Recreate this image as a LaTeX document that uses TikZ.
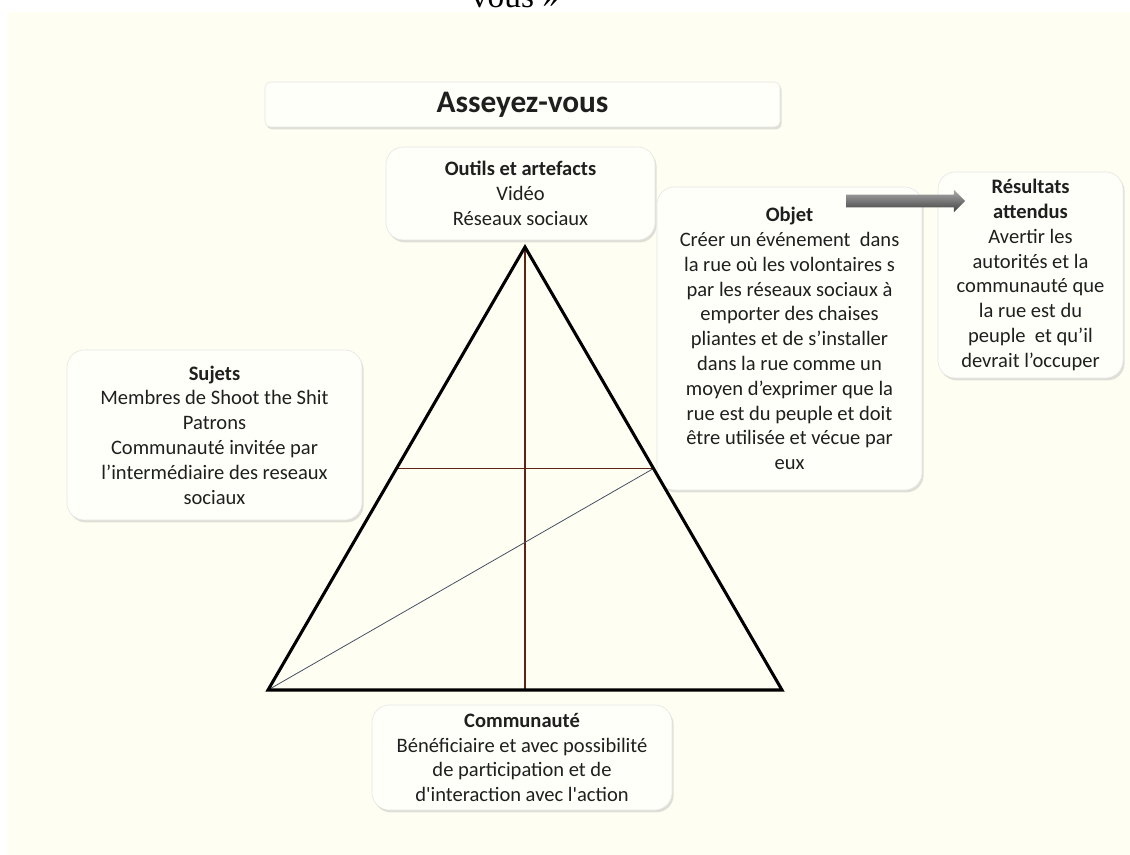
\documentclass[tikz,border=0pt]{standalone}
\usepackage{fontspec}
\setmainfont{Carlito}
\newfontfamily\timesfont{Liberation Serif}
\usetikzlibrary{shapes.arrows,shadows}
\definecolor{creme}{RGB}{255,254,243}
\definecolor{brun}{RGB}{95,35,20}
\definecolor{ardoise}{RGB}{70,80,100}
\begin{document}
\begin{tikzpicture}[x=0.75pt,y=-0.75pt,
  boite/.style={draw=gray!22, fill=white!55!creme, rounded corners=13pt, align=center, inner sep=0pt,
    drop shadow={shadow xshift=1.2pt, shadow yshift=-1.8pt, opacity=0.3, fill=gray!80},
    font=\fontsize{15.4}{18.6}\selectfont, text=black!88},
  fleche/.style={single arrow, draw=none, inner sep=4.5pt, minimum height=89.25pt,
    single arrow head extend=3.75pt, top color=gray!65, middle color=gray!10, bottom color=black!75}]
\useasboundingbox (0,0) rectangle (1130,855);
\fill[white] (0,0) rectangle (1130,855);
\fill[creme] (7,12) rectangle (1130,855);
%Titre
\node[font=\timesfont\fontsize{25}{30}\selectfont, anchor=base] (V) at (515,8) {vous~»};
\node[boite, rounded corners=4pt, minimum width=386.25pt, minimum height=33.75pt,
  font=\bfseries\fontsize{23.5}{28}\selectfont] (T) at (522.5,104.5) {Asseyez-vous};
%Boites du diagramme
\node[boite, minimum width=201.75pt, minimum height=69.75pt] (O) at (520.5,193.5)
  {\textbf{Outils et artefacts}\\Vidéo\\Réseaux sociaux};
\node[boite, minimum width=198.75pt, minimum height=227.25pt] (Ob) at (789.5,338.5)
  {\textbf{Objet}\\Créer un événement\ \ dans\\la rue où les volontaires s\\par les réseaux sociaux à\\emporter des chaises\\pliantes et de s’installer\\dans la rue comme un\\moyen d’exprimer que la\\rue est du peuple et doit\\être utilisée et vécue par\\eux};
\node[boite, minimum width=138.75pt, minimum height=154.5pt] (R) at (1030.5,275)
  {\textbf{Résultats}\\\textbf{attendus}\\Avertir les\\autorités et la\\communauté que\\la rue est du\\peuple\ \ et qu’il\\devrait l’occuper};
\node[boite, minimum width=221.25pt, minimum height=127.5pt] (S) at (214.5,435)
  {\textbf{Sujets}\\Membres de Shoot the Shit\\Patrons\\Communauté invitée par\\l’intermédiaire des reseaux\\sociaux};
\node[boite, minimum width=225pt, minimum height=78.75pt] (C) at (522,757.5)
  {\textbf{Communauté}\\Bénéficiaire et avec possibilité\\de participation et de\\d\textquotesingle interaction avec l\textquotesingle action};
%Sommets du triangle
\coordinate (Sommet) at (525,247);
\coordinate (BaseG) at (268,690);
\coordinate (BaseD) at (782,690);
\coordinate (MilG) at (396.5,468.5);
\coordinate (MilD) at (653.5,468.5);
\coordinate (MilB) at (525,690);
%Aretes du triangle
\draw[brun, line width=0.9pt] (Sommet) -- (MilB);
\draw[brun, line width=0.9pt] (MilG) -- (MilD);
\draw[ardoise, line width=0.6pt] (BaseG) -- (MilD);
\draw[line width=2.3pt, line join=miter] (Sommet) -- (BaseD) -- (BaseG) -- cycle;
%Fleche vers les resultats
\node[fleche] (F) at (902.5,201) {};
\end{tikzpicture}
\end{document}
